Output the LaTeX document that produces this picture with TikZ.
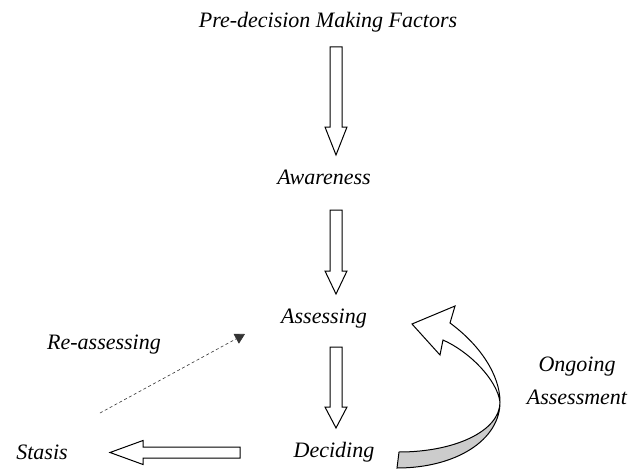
\documentclass[tikz,border=0pt]{standalone}
\usepackage{fontspec}
\setmainfont{Liberation Serif}
\usetikzlibrary{arrows.meta,calc,positioning}

\begin{document}
\begin{tikzpicture}[
    x=1pt, y=-1pt,
    stagetext/.style={font=\fontsize{22}{26}\selectfont\itshape, inner sep=0pt, anchor=base},
    hollowarrow/.style={draw=black, line width=1pt, fill=white, line join=miter},
    dasharrow/.style={-{Triangle[length=10pt,width=11pt]}, dash pattern=on 3pt off 2.5pt, line width=0.6pt, black!80},
    ribbon/.style={draw=black, line width=1pt, line join=miter},
]
\useasboundingbox (0,0) rectangle (631,468);

% Stages
\node[stagetext] (factors) at (328,28) {Pre-decision Making Factors};
\node[stagetext] (aware) at (324,184) {Awareness};
\node[stagetext] (assess) at (324,323) {Assessing};
\node[stagetext] (decide) at (334,457) {Deciding};
\node[stagetext] (stasis) at (42,459) {Stasis};
\node[stagetext] (reassess) at (104,349) {Re-assessing};
\node[stagetext, anchor=center, align=center, font=\fontsize{22}{33}\selectfont\itshape] (ongoing) at (577,381) {Ongoing\\Assessment};

% Arrow ends
\coordinate (fa1) at (336,47);  \coordinate (fa2) at (336,155);
\coordinate (aw1) at (336,210); \coordinate (aw2) at (336,294);
\coordinate (as1) at (336,347); \coordinate (as2) at (336,428);
\coordinate (de1) at (240,452.5); \coordinate (de2) at (110,452.5);
\coordinate (reFrom) at (100,413); \coordinate (reTo) at (245,334);

% Down arrows
\foreach \s/\e/\h in {fa1/fa2/28, aw1/aw2/23, as1/as2/21} {
    \draw[hollowarrow] let \p1=(\s), \p2=(\e) in
        (\x1-6,\y1) -- (\x1+6,\y1) -- (\x1+6,\y2+\h) -- (\x1+11,\y2+\h) -- (\x2,\y2)
        -- (\x1-11,\y2+\h) -- (\x1-6,\y2+\h) -- cycle;
}

% Deciding -> Stasis
\draw[hollowarrow] let \p1=(de1), \p2=(de2) in
    (\x1,\y1+5.5) -- (\x2+33,\y1+5.5) -- (\x2+33,\y1+12) -- (\x2,\y2)
    -- (\x2+33,\y1-12) -- (\x2+33,\y1-5.5) -- (\x1,\y1-5.5) -- cycle;

% Stasis -> Assessing
\draw[dasharrow] (reFrom) -- (reTo);

% Ongoing assessment ribbon
\coordinate (rbTailTop) at (399,452);
\coordinate (rbTailBot) at (397,468);
\coordinate (rbTwist) at (500,402);
\coordinate (rbIn) at (443,340);
\coordinate (rbOut) at (450,323);
\coordinate (rbWingA) at (455,306);
\coordinate (rbTip) at (412,324);
\coordinate (rbWingB) at (440,355);
\draw[ribbon, fill=gray!40] (rbTailTop) .. controls +(56,0) and +(0,29) .. (rbTwist)
    .. controls +(0,38) and +(59,0) .. (rbTailBot) -- cycle;
\draw[ribbon, fill=white] (rbTwist) .. controls +(0,-27) and +(30,22) .. (rbOut)
    -- (rbWingA) -- (rbTip) -- (rbWingB) -- (rbIn)
    .. controls +(27,12) and +(-3,-22) .. (rbTwist) -- cycle;
\end{tikzpicture}
\end{document}
